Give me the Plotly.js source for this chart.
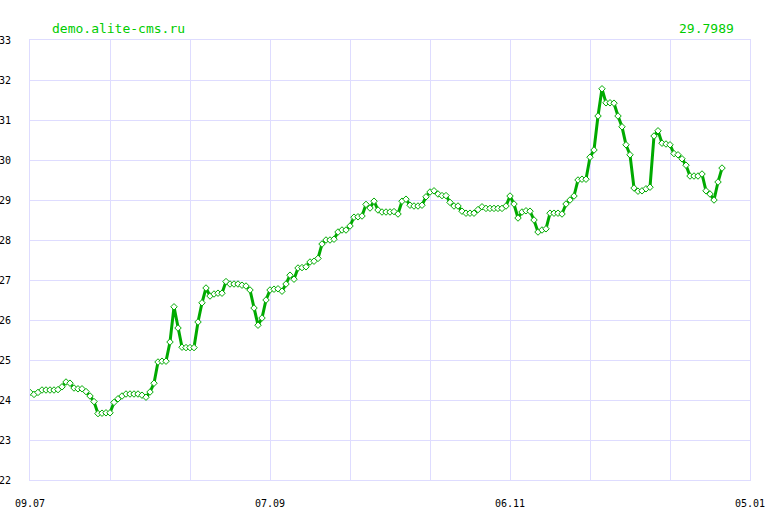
<!DOCTYPE html>
<html>
<head>
<meta charset="utf-8">
<script src="https://cdn.plot.ly/plotly-3.0.1.min.js"></script>
<style>html,body{margin:0;padding:0;background:#fff;}#chart{width:780px;height:520px;}</style>
</head>
<body>
<div id="chart"></div>
<script>
// Daily values, starting 2008-07-09
var startDate = "2008-07-09";
var values = [
  24.19, 24.14, 24.19, 24.25, 24.25, 24.25, 24.25, 24.26, 24.33, 24.45,
  24.42, 24.30, 24.28, 24.28, 24.21, 24.10, 23.96, 23.66, 23.67, 23.68,
  23.68, 23.94, 24.03, 24.10, 24.15, 24.15, 24.15, 24.15, 24.12, 24.07,
  24.20, 24.42, 24.95, 24.97, 24.97, 25.45, 26.33, 25.80, 25.32, 25.31,
  25.31, 25.31, 25.95, 26.43, 26.80, 26.60, 26.65, 26.67, 26.67, 26.96,
  26.90, 26.90, 26.90, 26.87, 26.85, 26.75, 26.30, 25.87, 26.05, 26.50,
  26.75, 26.77, 26.78, 26.72, 26.90, 27.12, 27.02, 27.30, 27.31, 27.33,
  27.45, 27.47, 27.54, 27.90, 28.00, 28.00, 28.02, 28.20, 28.25, 28.25,
  28.35, 28.57, 28.58, 28.60, 28.89, 28.80, 28.97, 28.75, 28.70, 28.70,
  28.70, 28.71, 28.65, 28.97, 29.02, 28.87, 28.85, 28.85, 28.87, 29.08,
  29.20, 29.23, 29.15, 29.11, 29.11, 28.94, 28.85, 28.85, 28.72, 28.67,
  28.67, 28.67, 28.76, 28.83, 28.79, 28.79, 28.79, 28.79, 28.79, 28.85,
  29.10, 28.90, 28.55, 28.70, 28.73, 28.72, 28.50, 28.20, 28.25, 28.28,
  28.67, 28.67, 28.67, 28.65, 28.90, 29.00, 29.10, 29.50, 29.52, 29.52,
  30.07, 30.25, 31.10, 31.78, 31.43, 31.43, 31.42, 31.10, 30.83, 30.38,
  30.13, 29.30, 29.22, 29.23, 29.28, 29.32, 30.60, 30.73, 30.42, 30.40,
  30.38, 30.16, 30.13, 30.03, 29.87, 29.60, 29.60, 29.60, 29.65, 29.23,
  29.15, 29.00, 29.45, 29.7989
];
var tickDates = ["2008-07-09","2008-07-29","2008-08-18","2008-09-07","2008-09-27",
                 "2008-10-17","2008-11-06","2008-11-26","2008-12-16","2009-01-05"];
var tickLabels = ["09.07","","","07.09","","","06.11","","","05.01"];
var yTicks = [22,23,24,25,26,27,28,29,30,31,32,33];
var siteLabel = "demo.alite-cms.ru";
var lastLabel = "29.7989";

function addDays(s, n) {
  var d = new Date(s + "T00:00:00Z");
  d.setUTCDate(d.getUTCDate() + n);
  return d.toISOString().slice(0, 10);
}
var dates = values.map(function (v, i) { return addDays(startDate, i); });

var gridCol = "#dedcff";
var mono = "DejaVu Sans Mono, monospace";

var trace = {
  x: dates, y: values, type: "scatter", mode: "lines+markers",
  line: {color: "#00aa00", width: 3},
  marker: {symbol: "diamond", size: 5, color: "#ffffff", line: {color: "#00aa00", width: 1}},
  hoverinfo: "skip"
};

var layout = {
  width: 780, height: 520,
  margin: {l: 30, r: 30, t: 40, b: 40, pad: 0},
  paper_bgcolor: "#ffffff", plot_bgcolor: "#ffffff",
  showlegend: false,
  font: {family: mono, size: 10, color: "#000"},
  xaxis: {
    type: "date", range: ["2008-07-09", "2009-01-05"],
    tickmode: "array", tickvals: tickDates, ticktext: tickLabels,
    showgrid: true, gridcolor: gridCol, gridwidth: 1,
    showline: true, linecolor: gridCol, linewidth: 1, mirror: true,
    zeroline: false, ticks: "", ticklabelstandoff: 14,
    tickfont: {family: mono, size: 10, color: "#000"}
  },
  yaxis: {
    range: [22, 33], tickmode: "array", tickvals: yTicks,
    showgrid: true, gridcolor: gridCol, gridwidth: 1,
    showline: true, linecolor: gridCol, linewidth: 1, mirror: true,
    zeroline: false, ticks: "", ticklabelstandoff: 16,
    tickfont: {family: mono, size: 10, color: "#000"}
  },
  annotations: [
    {text: siteLabel, xref: "paper", yref: "paper", x: 20/720, y: 1, xanchor: "left", yanchor: "bottom",
     yshift: 2, showarrow: false, font: {family: mono, size: 13, color: "#00cc00"}},
    {text: lastLabel, xref: "paper", yref: "paper", x: 706/720, y: 1, xanchor: "right", yanchor: "bottom",
     yshift: 2, showarrow: false, font: {family: mono, size: 13, color: "#00cc00"}}
  ]
};

Plotly.newPlot("chart", [trace], layout, {displayModeBar: false, staticPlot: true});
</script>
</body>
</html>
